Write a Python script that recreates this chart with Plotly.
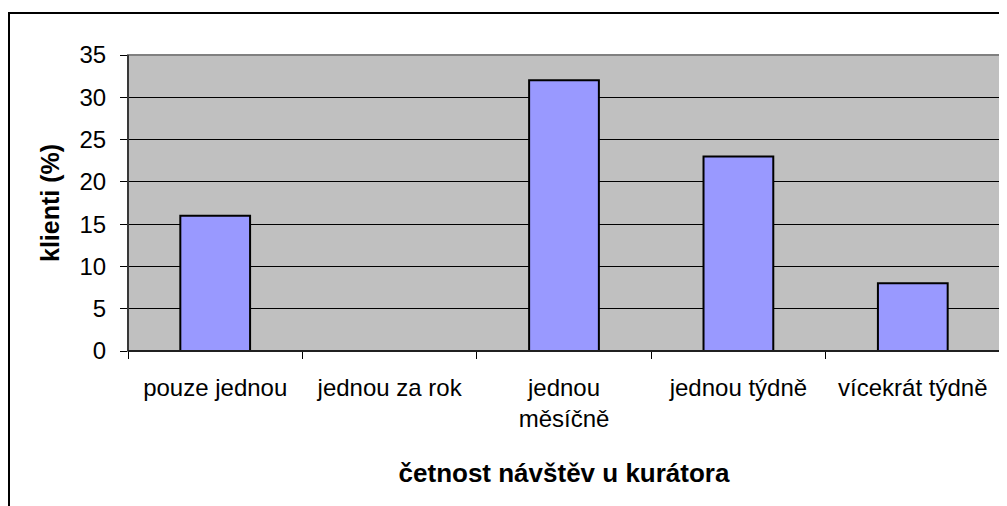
import plotly.graph_objects as go

categories = ["pouze jednou", "jednou za rok", "jednou<br>měsíčně", "jednou týdně", "vícekrát týdně"]
values = [16, 0, 32, 23, 8]
y_ticks = [0, 5, 10, 15, 20, 25, 30, 35]
x_title = "četnost návštěv u kurátora"
y_title = "klienti (%)"

FONT = "Liberation Sans, Arial, sans-serif"

# page body has an 8px default margin; figure is sized to fill the rest
W, H = 999, 498
L, R, T, B = 120, 7, 47, 155
PW = W - L - R
PH = H - T - B

fig = go.Figure()
fig.add_trace(go.Bar(
    x=categories, y=values,
    marker=dict(color="#9999FF", line=dict(color="black", width=2)),
    hoverinfo="skip",
))

fig.update_layout(
    width=W, height=H,
    margin=dict(l=L, r=R, t=T, b=B),
    paper_bgcolor="white",
    plot_bgcolor="#C0C0C0",
    bargap=0.6,
    showlegend=False,
    font=dict(family=FONT, size=24, color="black"),
    shapes=[
        # outer chart frame
        dict(type="rect", xref="paper", yref="paper",
             x0=(1 - L) / PW, x1=1.2, y0=-1.0, y1=(PH + T - 5) / PH,
             line=dict(color="black", width=2), layer="above"),
        # plot area border (grey)
        dict(type="rect", xref="paper", yref="paper", x0=0, x1=1, y0=0, y1=1,
             line=dict(color="#808080", width=2), layer="above"),
        # left axis line
        dict(type="line", xref="paper", yref="paper", x0=0, x1=0, y0=0, y1=1,
             line=dict(color="#202020", width=1.5), layer="above"),
        # bottom axis line
        dict(type="line", xref="paper", yref="paper", x0=0, x1=1, y0=0, y1=0,
             line=dict(color="#202020", width=2), layer="above"),
    ],
)

fig.update_xaxes(
    type="category",
    showgrid=False,
    showline=False,
    ticks="outside", ticklen=7, tickcolor="black", tickwidth=1,
    tickson="boundaries",
    ticklabelstandoff=20,
    tickfont=dict(family=FONT, size=24, color="black"),
    title=dict(text=x_title, font=dict(family=FONT, size=26, color="black", weight="bold"), standoff=32),
    zeroline=False,
)

fig.update_yaxes(
    range=[0, 35],
    tickvals=y_ticks,
    showgrid=True, gridcolor="black", gridwidth=1,
    showline=False,
    ticks="outside", ticklen=7, tickcolor="black", tickwidth=1,
    ticklabelstandoff=9,
    tickfont=dict(family=FONT, size=24, color="black"),
    title=dict(text=y_title, font=dict(family=FONT, size=25, color="black", weight="bold"), standoff=12),
    zeroline=False,
)

fig.write_html("out.html")
